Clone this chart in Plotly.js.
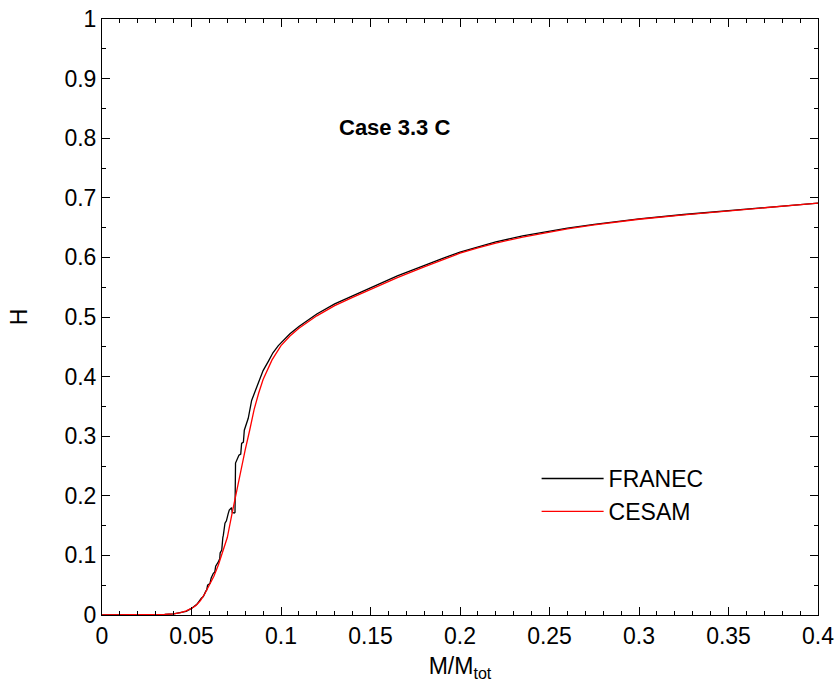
<!DOCTYPE html>
<html>
<head>
<meta charset="utf-8">
<script src="https://cdn.plot.ly/plotly-3.0.1.min.js"></script>
<style>
  html, body { margin: 0; padding: 0; background: #ffffff; }
  #chart { width: 840px; height: 693px; }
</style>
</head>
<body>
<div id="chart"></div>
<script>
// Hydrogen profile H versus mass coordinate M/Mtot

// FRANEC model
const franecM = [0, 0.02, 0.03, 0.035, 0.04, 0.044, 0.047, 0.05, 0.053, 0.0555, 0.0566, 0.058, 0.0585,
  0.059, 0.0603, 0.061, 0.0622, 0.063, 0.0635, 0.065, 0.0658, 0.066, 0.0669, 0.0675, 0.0678, 0.0687,
  0.0695, 0.0705, 0.0711, 0.0724, 0.0728, 0.0739, 0.0743, 0.0746, 0.0755, 0.0765, 0.0775, 0.078,
  0.079, 0.0795, 0.0817, 0.0836, 0.0855, 0.0873, 0.09, 0.093, 0.0955, 0.0985, 0.1, 0.105, 0.11,
  0.115, 0.12, 0.13, 0.14, 0.15, 0.165, 0.18, 0.19, 0.2, 0.21, 0.22, 0.235, 0.25, 0.26, 0.275,
  0.29, 0.3, 0.325, 0.35, 0.375, 0.4];
const franecH = [0, 0, 0.0005, 0.001, 0.002, 0.004, 0.006, 0.011, 0.018, 0.028, 0.031, 0.04, 0.042,
  0.05, 0.053, 0.062, 0.07, 0.072, 0.082, 0.089, 0.095, 0.104, 0.109, 0.13, 0.134, 0.154,
  0.158, 0.17, 0.176, 0.18, 0.172, 0.171, 0.172, 0.255, 0.262, 0.268, 0.27, 0.288,
  0.29, 0.31, 0.33, 0.36, 0.375, 0.39, 0.41, 0.426, 0.44, 0.452, 0.457, 0.472, 0.484,
  0.495, 0.505, 0.522, 0.536, 0.549, 0.569, 0.587, 0.598, 0.609, 0.618, 0.626, 0.636, 0.644, 0.649, 0.6555,
  0.661, 0.6645, 0.672, 0.678, 0.6845, 0.691];

// CESAM model
const cesamM = [0, 0.02, 0.03, 0.035, 0.04, 0.044, 0.047, 0.05, 0.0525, 0.055, 0.0575, 0.06, 0.0625,
  0.065, 0.0675, 0.07, 0.0725, 0.075, 0.0775, 0.08, 0.0825, 0.085, 0.0875, 0.09, 0.095, 0.1, 0.105,
  0.11, 0.12, 0.13, 0.14, 0.15, 0.165, 0.18, 0.19, 0.2, 0.21, 0.22, 0.235, 0.25, 0.26, 0.275,
  0.29, 0.3, 0.325, 0.35, 0.375, 0.4];
const cesamH = [0, 0, 0.0005, 0.001, 0.002, 0.004, 0.007, 0.011, 0.016, 0.024, 0.036, 0.05, 0.065,
  0.084, 0.106, 0.13, 0.168, 0.205, 0.245, 0.277, 0.31, 0.345, 0.372, 0.395, 0.428, 0.452, 0.468,
  0.481, 0.502, 0.519, 0.533, 0.546, 0.566, 0.584, 0.596, 0.607, 0.616, 0.624, 0.634, 0.643, 0.648, 0.6545,
  0.6605, 0.664, 0.6715, 0.678, 0.6845, 0.691];

const xTicks = [0, 0.05, 0.1, 0.15, 0.2, 0.25, 0.3, 0.35, 0.4];
const yTicks = [0, 0.1, 0.2, 0.3, 0.4, 0.5, 0.6, 0.7, 0.8, 0.9, 1];

const FONT = 'Liberation Sans, Arial, sans-serif';
const FS = 23;

const traces = [
  {
    x: franecM, y: franecH, name: 'FRANEC', type: 'scatter', mode: 'lines',
    line: { color: '#000000', width: 1.3 }
  },
  {
    x: cesamM, y: cesamH, name: 'CESAM', type: 'scatter', mode: 'lines',
    line: { color: '#ff0000', width: 1.3 }
  }
];

const axisCommon = {
  showgrid: false, zeroline: false,
  showline: true, linecolor: '#000000', linewidth: 1, mirror: 'ticks',
  ticks: 'inside', ticklen: 8, tickwidth: 1, tickcolor: '#000000',
  tickfont: { family: FONT, size: FS, color: '#000000' }
};

const layout = {
  width: 840, height: 693,
  margin: { l: 102, r: 22, t: 19, b: 78 },
  paper_bgcolor: '#ffffff', plot_bgcolor: '#ffffff',
  font: { family: FONT, color: '#000000' },
  showlegend: true,
  legend: {
    x: 0.607, y: 0.265, xanchor: 'left', yanchor: 'top',
    bgcolor: 'rgba(0,0,0,0)', borderwidth: 0,
    font: { family: FONT, size: FS, color: '#000000' },
    itemwidth: 62
  },
  xaxis: Object.assign({}, axisCommon, {
    range: [0, 0.4], tickmode: 'array', tickvals: xTicks,
    ticktext: xTicks.map(String),
    minor: { dtick: 0.01, ticks: 'inside', ticklen: 4, tickcolor: '#000000', showgrid: false },
    title: { text: 'M/M<sub>tot</sub>', font: { family: FONT, size: FS }, standoff: 10 }
  }),
  yaxis: Object.assign({}, axisCommon, {
    range: [0, 1], tickmode: 'array', tickvals: yTicks,
    ticktext: yTicks.map(String),
    minor: { dtick: 0.05, ticks: 'inside', ticklen: 4, tickcolor: '#000000', showgrid: false },
    title: { text: 'H', font: { family: FONT, size: FS }, standoff: 30 }
  }),
  annotations: [
    {
      text: '<b>Case 3.3 C</b>', xref: 'paper', yref: 'paper',
      x: 0.409, y: 0.818, xanchor: 'center', yanchor: 'middle', showarrow: false,
      font: { family: FONT, size: 22, color: '#000000' }
    }
  ]
};

Plotly.newPlot('chart', traces, layout, { displayModeBar: false, staticPlot: true });
</script>
</body>
</html>
